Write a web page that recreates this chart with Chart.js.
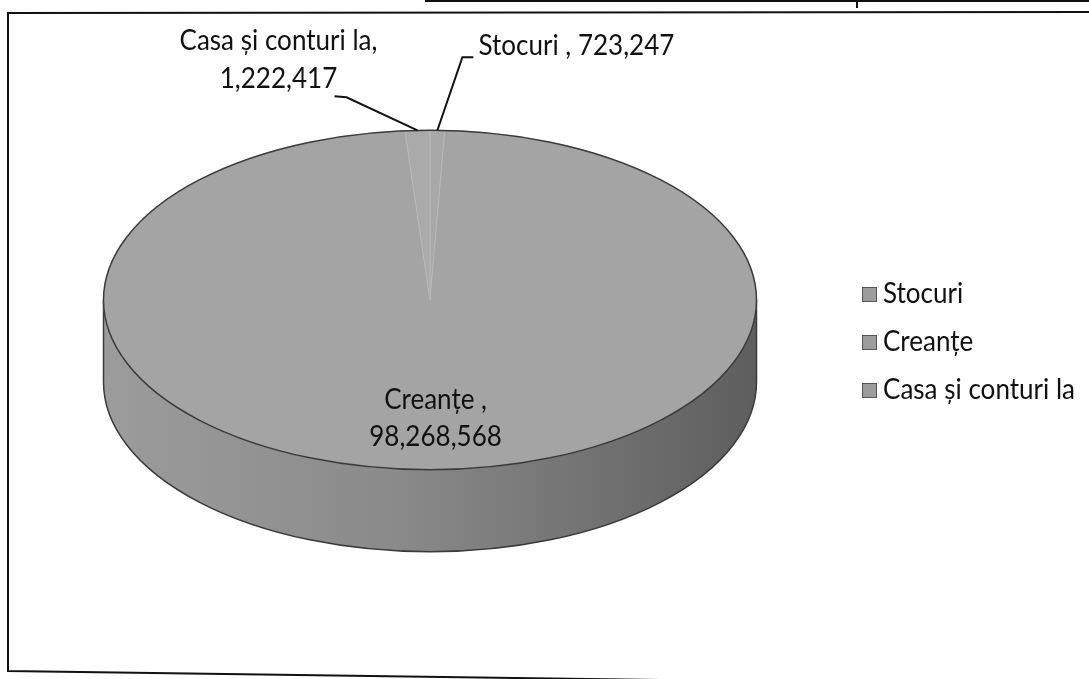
<!DOCTYPE html>
<html>
<head>
<meta charset="utf-8">
<script src="https://cdn.jsdelivr.net/npm/chart.js@4.4.1/dist/chart.umd.min.js"></script>
<style>
html,body{margin:0;padding:0;background:#fff;}
#wrap{position:relative;width:1089px;height:679px;}
</style>
</head>
<body>
<div id="wrap"><canvas id="c"></canvas></div>
<script>
// ---- data ----
const categories = ['Stocuri', 'Creanțe', 'Casa și conturi la'];
const values = [723247, 98268568, 1222417];
const sliceColors = ['#a8a8a8', '#a4a4a4', '#aaaaaa'];
const legendColors = ['#9c9c9c', '#9c9c9c', '#9c9c9c'];

// ---- style ----
const FONT = '28px Lato, "Open Sans", sans-serif';
const SX = 0.93;        // slight horizontal compression of text
const TILT = 0.52;      // vertical squash of the pie
const TOP_CY = 300;     // y of top-face centre
const DEPTH = 82;       // thickness of the 3D side

function fmt(v){ return v.toLocaleString('en-US'); }
function geo(chart){
  const a = chart.getDatasetMeta(0).data[0];
  return {cx: a.x, cy: a.y, R: a.outerRadius};
}
function proj(g, ang, f){
  return {x: g.cx + Math.cos(ang) * g.R * f, y: TOP_CY + Math.sin(ang) * g.R * f * TILT};
}
function txt(ctx, s, x, y, align){
  ctx.save();
  ctx.translate(x, y);
  ctx.scale(SX, 1);
  ctx.textAlign = align;
  ctx.textBaseline = 'alphabetic';
  ctx.fillText(s, 0, 0);
  ctx.restore();
}

const pie3d = {
  id: 'pie3d',
  beforeDraw(chart){
    const ctx = chart.ctx;
    ctx.save();
    ctx.strokeStyle = '#111';
    ctx.lineWidth = 2;
    ctx.beginPath();
    ctx.moveTo(1095, 12); ctx.lineTo(8, 13); ctx.lineTo(8, 671); ctx.lineTo(1095, 686);
    ctx.stroke();
    ctx.beginPath();
    ctx.moveTo(425, 1); ctx.lineTo(1089, 1);
    ctx.moveTo(857, 0); ctx.lineTo(857, 8);
    ctx.stroke();
    ctx.restore();
  },
  beforeDatasetsDraw(chart){
    const ctx = chart.ctx, g = geo(chart), ry = g.R * TILT;
    const arcs = chart.getDatasetMeta(0).data;
    const grad = ctx.createLinearGradient(g.cx - g.R, 0, g.cx + g.R, 0);
    grad.addColorStop(0, '#9c9c9c');
    grad.addColorStop(0.45, '#8a8a8a');
    grad.addColorStop(1, '#5e5e5e');
    ctx.save();
    arcs.forEach(arc => {
      const s = arc.startAngle, e = arc.endAngle;
      [-2 * Math.PI, 0, 2 * Math.PI].forEach(off => {
        const a1 = Math.max(s + off, 0), a2 = Math.min(e + off, Math.PI);
        if (a2 > a1) {
          ctx.beginPath();
          ctx.ellipse(g.cx, TOP_CY, g.R, ry, 0, a1, a2);
          ctx.ellipse(g.cx, TOP_CY + DEPTH, g.R, ry, 0, a2, a1, true);
          ctx.closePath();
          ctx.fillStyle = grad;
          ctx.fill();
        }
      });
    });
    ctx.beginPath();
    ctx.ellipse(g.cx, TOP_CY + DEPTH, g.R, ry, 0, 0, Math.PI);
    ctx.moveTo(g.cx - g.R, TOP_CY); ctx.lineTo(g.cx - g.R, TOP_CY + DEPTH);
    ctx.moveTo(g.cx + g.R, TOP_CY); ctx.lineTo(g.cx + g.R, TOP_CY + DEPTH);
    ctx.strokeStyle = '#3a3a3a';
    ctx.lineWidth = 1.5;
    ctx.stroke();
    ctx.restore();
    ctx.save();
    ctx.translate(0, TOP_CY);
    ctx.scale(1, TILT);
    ctx.translate(0, -g.cy);
  },
  afterDatasetsDraw(chart){
    const ctx = chart.ctx;
    ctx.restore();
    const g = geo(chart), ry = g.R * TILT;
    const arcs = chart.getDatasetMeta(0).data;
    ctx.save();
    ctx.beginPath();
    ctx.ellipse(g.cx, TOP_CY, g.R, ry, 0, 0, 2 * Math.PI);
    ctx.strokeStyle = '#3a3a3a';
    ctx.lineWidth = 1.5;
    ctx.stroke();

    ctx.font = FONT;
    ctx.fillStyle = '#111';
    ctx.strokeStyle = '#111';
    ctx.lineWidth = 2;
    const mids = arcs.map(a => (a.startAngle + a.endAngle) / 2);

    // Stocuri (index 0)
    {
      const p = proj(g, mids[0], 1);
      ctx.beginPath();
      ctx.moveTo(p.x, p.y);
      ctx.lineTo(p.x + 25, p.y - 73);
      ctx.lineTo(p.x + 36, p.y - 73);
      ctx.stroke();
      txt(ctx, categories[0] + ' , ' + fmt(values[0]), p.x + 41, p.y - 75, 'left');
    }
    // Casa (index 2)
    {
      const p = proj(g, mids[2], 1);
      const q = {x: p.x - 71, y: p.y - 33};
      ctx.beginPath();
      ctx.moveTo(p.x, p.y);
      ctx.lineTo(q.x, q.y);
      ctx.lineTo(q.x - 12, q.y - 1);
      ctx.stroke();
      txt(ctx, categories[2] + ',', q.x - 68, q.y - 47, 'center');
      txt(ctx, fmt(values[2]), q.x - 68, q.y - 9, 'center');
    }
    // Creanțe (index 1)
    {
      const p = proj(g, mids[1], 0.7);
      txt(ctx, categories[1] + ' ,', p.x + 2, p.y - 10, 'center');
      txt(ctx, fmt(values[1]), p.x + 2, p.y + 27, 'center');
    }
    ctx.restore();
  },
  afterDraw(chart){
    const ctx = chart.ctx;
    ctx.save();
    ctx.font = FONT;
    const lx = 862, base0 = 303, step = 48;
    categories.forEach((c, i) => {
      const b = base0 + i * step;
      ctx.fillStyle = legendColors[i];
      ctx.fillRect(lx, b - 16, 15, 15);
      ctx.strokeStyle = '#555';
      ctx.lineWidth = 1;
      ctx.strokeRect(lx + 0.5, b - 15.5, 14, 14);
      ctx.fillStyle = '#111';
      txt(ctx, c, lx + 21, b, 'left');
    });
    ctx.restore();
  }
};

new Chart(document.getElementById('c'), {
  type: 'pie',
  data: {
    labels: categories,
    datasets: [{
      data: values,
      backgroundColor: sliceColors,
      borderColor: '#b9b9b9',
      borderWidth: 1
    }]
  },
  options: {
    responsive: true,
    maintainAspectRatio: false,
    animation: false,
    events: [],
    layout: {padding: {left: 103, right: 332, top: 12, bottom: 13}},
    plugins: {legend: {display: false}, tooltip: {enabled: false}}
  },
  plugins: [pie3d]
});
</script>
</body>
</html>
